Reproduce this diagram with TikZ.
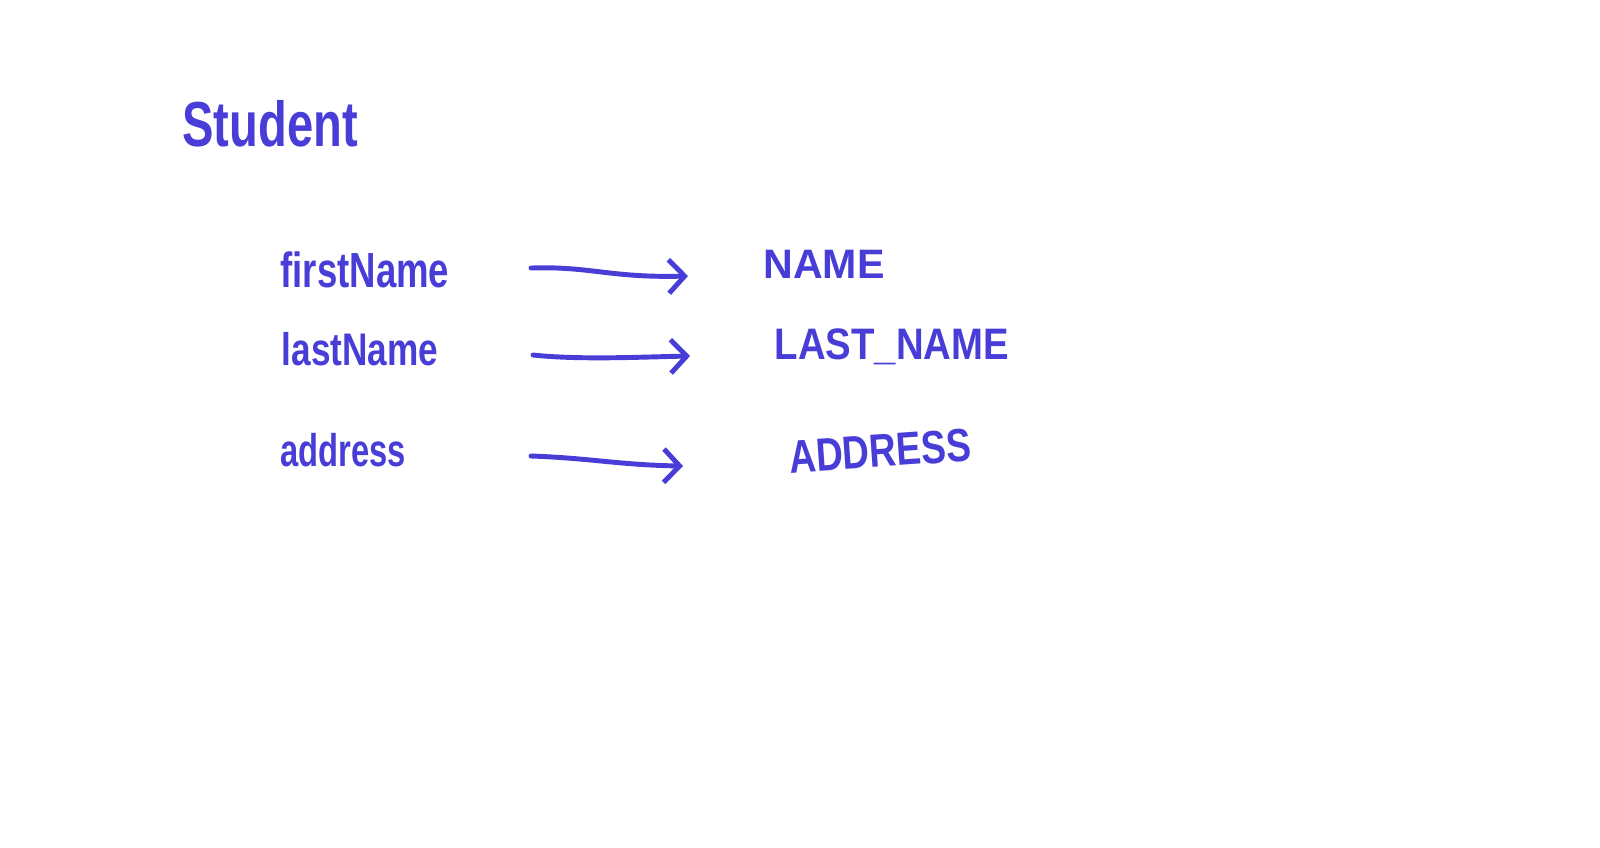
\documentclass[tikz,border=0pt]{standalone}
\usepackage{fontspec}
\setmainfont{Liberation Sans}
\usetikzlibrary{arrows.meta}
\definecolor{ink}{RGB}{72,62,215}
\tikzset{
  hand/.style={text=ink, inner sep=0pt, anchor=center, font=\bfseries},
  conn/.style={draw=ink, line width=1.4pt, line cap=round, line join=round,
    -{Straight Barb[length=4.5pt,width=9.5pt,line width=1.4pt]}},
}
\newcommand{\hw}[3]{\fontsize{#1}{#1}\selectfont\scalebox{1}[#2]{#3}}
\begin{document}
\begin{tikzpicture}[x=0.01cm,y=-0.01cm]
\useasboundingbox[fill=white] (0,0) rectangle (1600,847);
\node[hand] (student) at (270,124) {\hw{13.4pt}{1.35}{Student}};
\node[hand] (first) at (365,270) {\hw{10.4pt}{1.35}{firstName}};
\node[hand] (last) at (360,349) {\hw{10pt}{1.3}{lastName}};
\node[hand] (addr) at (343,450) {\hw{9.3pt}{1.4}{address}};
\node[hand] (name) at (824,264) {\hw{11.7pt}{1.0}{NAME}};
\node[hand] (lname) at (892,347) {\hw{10.9pt}{1.15}{LAST\_NAME}};
\node[hand, rotate=4] (address) at (880,451) {\hw{10.6pt}{1.25}{ADDRESS}};
\coordinate (a1s) at (531,268);
\coordinate (a1e) at (688,276);
\coordinate (a2s) at (533,355);
\coordinate (a2e) at (690,356);
\coordinate (a3s) at (531,456);
\coordinate (a3e) at (683,466);
\draw[conn] (a1s) .. controls (590,266) and (610,278) .. (a1e);
\draw[conn] (a2s) .. controls (580,360) and (640,357) .. (a2e);
\draw[conn] (a3s) .. controls (590,458) and (620,465) .. (a3e);
\end{tikzpicture}
\end{document}
